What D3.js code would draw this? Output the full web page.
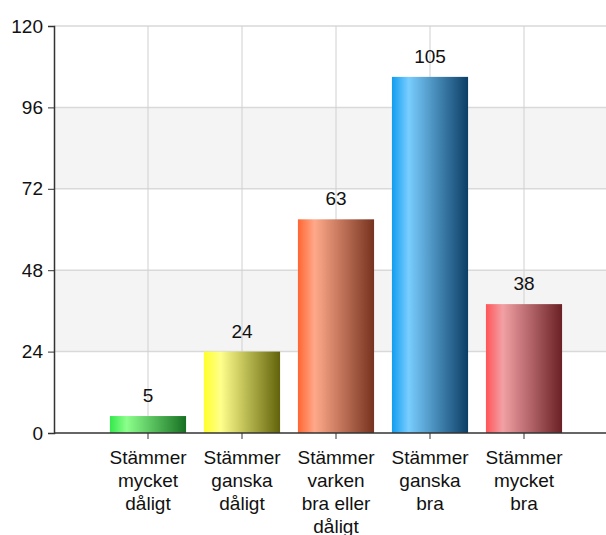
<!DOCTYPE html>
<html>
<head>
<meta charset="utf-8">
<script src="https://cdn.jsdelivr.net/npm/d3@7"></script>
<style>
  body { margin: 0; background: #fff; }
  text { font-family: Arial, "Liberation Sans", sans-serif; fill: #111; }
</style>
</head>
<body>
<div id="chart"></div>
<script>
// chart data
var categories = [
    ["Stämmer", "mycket", "dåligt"],
    ["Stämmer", "ganska", "dåligt"],
    ["Stämmer", "varken", "bra eller", "dåligt"],
    ["Stämmer", "ganska", "bra"],
    ["Stämmer", "mycket", "bra"]
];
var values = [5, 24, 63, 105, 38];
var yTicks = [0, 24, 48, 72, 96, 120];
// gradient stops per bar: left, highlight, right
var barColors = [
    ["#33e84a", "#8cff8c", "#177022"],
    ["#ffff2a", "#ffff8c", "#62620a"],
    ["#ff6633", "#ffa98a", "#76331f"],
    ["#129cf0", "#79cdff", "#0c3e66"],
    ["#ff5558", "#f2a0a4", "#6a2024"]
];

var svgWidth = 606, svgHeight = 535;
var margin = {top: 26, right: 0, bottom: 102, left: 54};
var height = svgHeight - margin.top - margin.bottom;
var width = svgWidth - margin.left - margin.right;

var svg = d3.select("#chart").append("svg")
    .attr("width", svgWidth)
    .attr("height", svgHeight);

var defs = svg.append("defs");
barColors.forEach(function(c, i) {
    var g = defs.append("linearGradient")
        .attr("id", "grad" + i)
        .attr("x1", "0%").attr("x2", "100%")
        .attr("y1", "0%").attr("y2", "0%");
    g.append("stop").attr("offset", "0%").attr("stop-color", c[0]);
    g.append("stop").attr("offset", "22%").attr("stop-color", c[1]);
    g.append("stop").attr("offset", "100%").attr("stop-color", c[2]);
});

var chart = svg.append("g")
    .attr("transform", "translate(" + margin.left + "," + margin.top + ")");

// x: an empty slot first so the bars start one step in from the axis
var idx = d3.range(categories.length);
var x = d3.scaleBand()
    .domain([-1].concat(idx))
    .range([-47, -47 + 94 * 6])
    .paddingInner(0.19)
    .paddingOuter(0.095);

var y = d3.scaleLinear().domain([0, 120]).range([height, 0]);

// alternating bands
chart.selectAll(".band")
    .data(yTicks.slice(0, -1))
    .enter().append("rect")
    .attr("x", 0)
    .attr("width", width)
    .attr("y", function(d) { return y(d + 24); })
    .attr("height", function(d) { return y(d) - y(d + 24); })
    .attr("fill", function(d, i) { return i % 2 ? "#f4f4f4" : "#fff"; });

// horizontal grid
chart.selectAll(".hgrid")
    .data(yTicks.slice(1))
    .enter().append("line")
    .attr("x1", 0).attr("x2", width)
    .attr("y1", function(d) { return y(d); })
    .attr("y2", function(d) { return y(d); })
    .attr("stroke", "#d9d9d9")
    .attr("stroke-width", 1.5);

// vertical grid
chart.selectAll(".vgrid")
    .data(idx)
    .enter().append("line")
    .attr("x1", function(d) { return x(d) + x.bandwidth() / 2; })
    .attr("x2", function(d) { return x(d) + x.bandwidth() / 2; })
    .attr("y1", 0).attr("y2", height)
    .attr("stroke", "#d0d0d0")
    .attr("stroke-width", 1);

// bars
chart.selectAll(".bar")
    .data(values)
    .enter().append("rect")
    .attr("x", function(d, i) { return x(i); })
    .attr("width", x.bandwidth())
    .attr("y", function(d) { return y(d); })
    .attr("height", function(d) { return y(0) - y(d); })
    .attr("fill", function(d, i) { return "url(#grad" + i + ")"; });

// value labels
chart.selectAll(".val")
    .data(values)
    .enter().append("text")
    .attr("x", function(d, i) { return x(i) + x.bandwidth() / 2; })
    .attr("y", function(d) { return y(d) - 14; })
    .attr("text-anchor", "middle")
    .style("font-size", "19px")
    .text(function(d) { return d; });

// y axis
var yAxis = chart.append("g")
    .call(d3.axisLeft(y).tickValues(yTicks).tickSize(6).tickPadding(5));
yAxis.select(".domain").attr("stroke", "#333").attr("stroke-width", 1.5);
yAxis.selectAll(".tick line").attr("stroke", "#333");
yAxis.selectAll("text").style("font-size", "19px").attr("fill", "#111");

// x axis
var xAxis = chart.append("g")
    .attr("transform", "translate(0," + height + ")")
    .call(d3.axisBottom(x).tickValues(idx).tickSize(6).tickFormat(""));
xAxis.select(".domain").remove();
xAxis.append("line")
    .attr("x1", 0).attr("x2", width)
    .attr("stroke", "#333").attr("stroke-width", 1.5);
xAxis.selectAll(".tick line").attr("stroke", "#333");

// category labels
xAxis.selectAll(".tick")
    .each(function(d) {
        var t = d3.select(this).append("text")
            .attr("text-anchor", "middle")
            .attr("y", 31)
            .style("font-size", "19px")
            .attr("fill", "#111");
        categories[d].forEach(function(line, j) {
            t.append("tspan").attr("x", 0).attr("dy", j ? 23 : 0).text(line);
        });
    });
</script>
</body>
</html>
